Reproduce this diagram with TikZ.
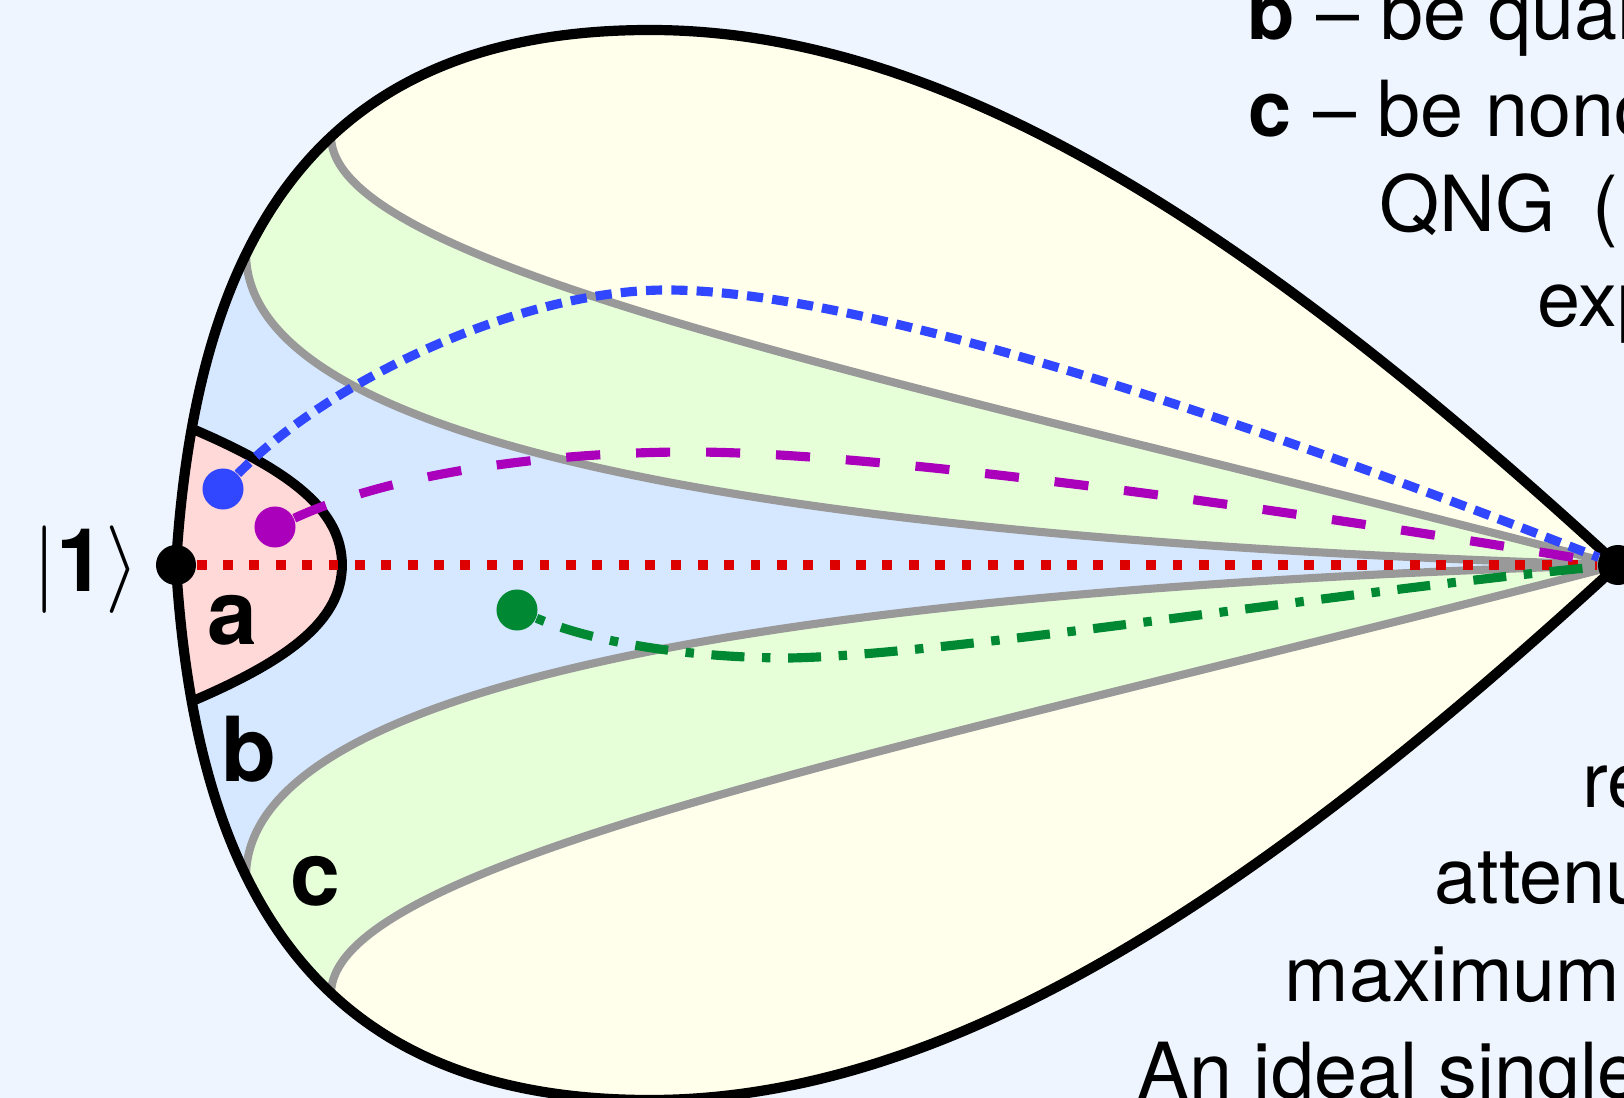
\documentclass[tikz,border=0pt]{standalone}
\usepackage{fontspec}
\setmainfont{TeX Gyre Heros}

\definecolor{page-blue}{HTML}{EEF5FE}
\definecolor{drop-yellow}{HTML}{FFFFEC}
\definecolor{band-green}{HTML}{E7FFD9}
\definecolor{band-blue}{HTML}{D6E8FF}
\definecolor{core-pink}{HTML}{FFD8D8}
\definecolor{line-gray}{HTML}{999999}
\definecolor{traj-blue}{HTML}{3047FF}
\definecolor{traj-magenta}{HTML}{AA00BB}
\definecolor{traj-red}{HTML}{DD0000}
\definecolor{traj-green}{HTML}{008833}

% outer teardrop, in pixel units (y grows downwards)
\newcommand{\dropshape}{(176,565) .. controls (196,235) and (320,30) .. (650,30)
    .. controls (950,30) and (1258,234) .. (1618,565)
    .. controls (1258,896) and (950,1100) .. (650,1100)
    .. controls (320,1100) and (196,895) .. (176,565) -- cycle}

\begin{document}
\begin{tikzpicture}[x=0.01cm, y=-0.01cm,
      every node/.style={font=\fontsize{22pt}{26pt}\selectfont, inner sep=0pt},
      boundary/.style={draw=line-gray, line width=2.3pt},
      endpoint/.style={circle, fill=black, minimum size=0.40cm},
      startdot/.style={circle, minimum size=0.41cm},
      region label/.style={font=\fontsize{25.5pt}{30pt}\selectfont\bfseries, anchor=base},
      side text/.style={anchor=base west}]

    \useasboundingbox (0,0) rectangle (1624,1098);
    \clip (0,0) rectangle (1624,1098);
    \fill[page-blue] (0,0) rectangle (1624,1098);

    \coordinate (tip) at (1618,565);
    \fill[drop-yellow] \dropshape;

    % bands c, b and core a -- filled past the rim, clipped by the teardrop
    \begin{scope}
      \clip \dropshape;
      \fill[band-green] (331,80) -- (331,136) .. controls (331,271) and (918,383) .. (tip)
          .. controls (918,747) and (331,859) .. (331,994) -- (331,1050)
          -- (100,1050) -- (100,80) -- cycle;
      \fill[band-blue] (246,200) -- (246,253) .. controls (246,453) and (818,541) .. (tip)
          .. controls (818,589) and (246,677) .. (246,877) -- (246,930)
          -- (100,930) -- (100,200) -- cycle;
      \fill[core-pink] (140,427) -- (188,427) .. controls (290,470) and (342,510) .. (342,565)
          .. controls (342,620) and (290,660) .. (188,703) -- (140,703) -- cycle;

      \draw[boundary] (331,120) -- (331,136) .. controls (331,271) and (918,383) .. (tip);
      \draw[boundary] (246,235) -- (246,253) .. controls (246,453) and (818,541) .. (tip);
      \draw[boundary] (246,895) -- (246,877) .. controls (246,677) and (818,589) .. (tip);
      \draw[boundary] (331,1010) -- (331,994) .. controls (331,859) and (918,747) .. (tip);
      \draw[line width=2.8pt] (188,427) .. controls (290,470) and (342,510) .. (342,565)
          .. controls (342,620) and (290,660) .. (188,703);
    \end{scope}
    \draw[line width=2.9pt] \dropshape;

    % end points and starting states
    \node[endpoint] (L) at (176,565) {};
    \node[endpoint] (R) at (tip) {};
    \node[startdot, fill=traj-blue] (bdot) at (223,489) {};
    \node[startdot, fill=traj-magenta] (mdot) at (275,527) {};
    \node[startdot, fill=traj-green] (gdot) at (517,610) {};

    % trajectories towards the tip
    \draw[traj-red, line width=2.8pt, dash pattern=on 2.8pt off 4.7pt] (L) -- (R);
    \draw[traj-blue, line width=2.6pt, dash pattern=on 4.6pt off 2.6pt]
        (bdot) .. controls (330,380) and (520,290) .. (667,290)
        .. controls (900,290) and (1400,480) .. (R);
    \draw[traj-magenta, line width=2.6pt, dash pattern=on 9.7pt off 10.2pt]
        (mdot) .. controls (400,470) and (560,452) .. (690,452)
        .. controls (900,452) and (1350,520) .. (R);
    \draw[traj-green, line width=2.6pt, dash pattern=on 2.4pt off 5pt on 9.4pt off 5pt]
        (gdot) .. controls (600,645) and (700,658) .. (790,658)
        .. controls (950,655) and (1350,590) .. (R);

    % labels
    \node[anchor=base, font=\fontsize{25pt}{29pt}\selectfont] (ket) at (86,592) {$|$\textbf{1}$\rangle$};
    \node[region label] (la) at (232,645) {a};
    \node[region label] (lb) at (249,782) {b};
    \node[region label] (lc) at (315,906) {c};

    % text running off the right edge
    \node[side text] (t1) at (1247,40) {\textbf{b} -- be qual};
    \node[side text] (t2) at (1248,137) {\textbf{c} -- be nonc};
    \node[side text] (t3) at (1379,232) {QNG\hspace{0.2em} (I};
    \node[side text] (t4) at (1537,327) {exp};
    \node[side text] (t5) at (1582,808) {re};
    \node[side text] (t6) at (1434,904) {attenu};
    \node[side text] (t7) at (1284,1002) {maximum};
    \node[side text] (t8) at (1137,1099) {An ideal single};
  \end{tikzpicture}
\end{document}
